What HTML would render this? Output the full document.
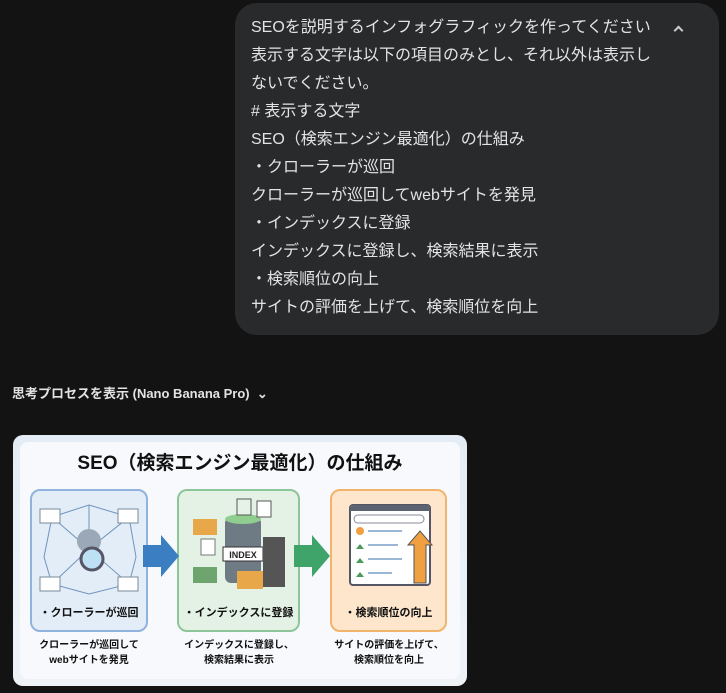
<!DOCTYPE html>
<html><head><meta charset="utf-8"><style>
*{margin:0;padding:0;box-sizing:border-box}
body{width:726px;height:693px;background:#131314;position:relative;overflow:hidden;font-family:"Liberation Sans","Noto Sans CJK JP",sans-serif;color:#e3e3e3}
.bub{position:absolute;left:235px;top:3px;width:484px;height:332px;background:#282a2c;border-radius:22px 22px 22px 22px}
.bub p{position:absolute;left:16px;font-size:16px;line-height:28px;white-space:nowrap}
.chev{position:absolute;left:440px;top:24px;width:10px;height:10px;border-left:2px solid #ccc;border-top:2px solid #ccc;transform:rotate(45deg);width:7px;height:7px}
.think{position:absolute;left:12px;top:383px;font-size:13px;font-weight:bold;color:#e3e3e3}
.img{position:absolute;left:13px;top:435px;width:454px;height:251px;background:linear-gradient(#e4edf6,#eef3f8);border-radius:10px;overflow:hidden}
.inner{position:absolute;left:7px;top:7px;width:440px;height:237px;background:#f7f9fc;border-radius:8px}
.title{position:absolute;left:0;width:454px;top:13px;text-align:center;font-size:19px;font-weight:bold;color:#111}
.pan{position:absolute;top:54px;height:143px;border-radius:10px;border:2px solid}
.pan .lab{position:absolute;left:0;right:0;bottom:10px;text-align:center;font-size:11px;font-weight:bold;color:#111;white-space:nowrap}
.desc{position:absolute;top:203px;text-align:center;font-size:10px;line-height:15px;color:#111;width:130px;font-weight:bold}
</style></head><body>
<div class="bub">
<p style="top:11px">SEOを説明するインフォグラフィックを作ってください</p>
<p style="top:39px">表示する文字は以下の項目のみとし、それ以外は表示し</p>
<p style="top:67px">ないでください。</p>
<p style="top:95px"># 表示する文字</p>
<p style="top:123px">SEO（検索エンジン最適化）の仕組み</p>
<p style="top:151px">・クローラーが巡回</p>
<p style="top:179px">クローラーが巡回してwebサイトを発見</p>
<p style="top:207px">・インデックスに登録</p>
<p style="top:235px">インデックスに登録し、検索結果に表示</p>
<p style="top:263px">・検索順位の向上</p>
<p style="top:291px">サイトの評価を上げて、検索順位を向上</p>
<div class="chev"></div>
</div>
<div class="think">思考プロセスを表示 (Nano Banana Pro) &nbsp;⌄</div>
<div class="img"><div class="inner"></div>
<div class="title">SEO（検索エンジン最適化）の仕組み</div>
<div class="pan" style="left:17px;width:118px;background:#e3edf8;border-color:#8fb3dc">
<svg width="114" height="100" style="position:absolute;left:0;top:8px">
<g stroke="#6f93bd" stroke-width="1" fill="none"><path d="M20 18L57 6L97 18L104 58L97 85L57 95L20 85L12 58Z M57 6L57 50L20 18 M97 18L57 50 M97 85L57 50L20 85"/></g>
<g fill="#fff" stroke="#7a8a9a"><rect x="8" y="10" width="20" height="14"/><rect x="86" y="10" width="20" height="14"/><rect x="8" y="78" width="20" height="14"/><rect x="86" y="78" width="20" height="14"/></g>
<circle cx="57" cy="42" r="12" fill="#9aa8b8"/><circle cx="60" cy="60" r="11" fill="#bde0f5" stroke="#556" stroke-width="3"/>
</svg>
<div class="lab">・クローラーが巡回</div></div>
<div class="pan" style="left:164px;width:123px;background:#e4f2e6;border-color:#8dc59a">
<svg width="118" height="100" style="position:absolute;left:0;top:6px">
<rect x="46" y="20" width="36" height="66" rx="6" fill="#6e7a84"/><ellipse cx="64" cy="22" rx="18" ry="5" fill="#8fce8f"/>
<rect x="44" y="50" width="40" height="14" fill="#fff" stroke="#333"/><text x="64" y="61" font-size="9" font-weight="bold" text-anchor="middle" fill="#222" font-family="Liberation Sans">INDEX</text>
<rect x="84" y="40" width="22" height="50" fill="#555"/><rect x="14" y="22" width="24" height="16" fill="#e8a84a"/><rect x="14" y="70" width="24" height="16" fill="#6ea46e"/><rect x="58" y="74" width="26" height="18" fill="#e8a84a"/><rect x="22" y="42" width="14" height="16" fill="#fff" stroke="#777"/><rect x="58" y="2" width="14" height="16" fill="#e6f2e6" stroke="#555"/><rect x="78" y="4" width="14" height="16" fill="#fff" stroke="#555"/>
</svg>
<div class="lab">・インデックスに登録</div></div>
<div class="pan" style="left:317px;width:117px;background:#fde6cc;border-color:#f2b36a">
<svg width="113" height="100" style="position:absolute;left:0;top:8px">
<rect x="18" y="6" width="80" height="80" rx="3" fill="#fff" stroke="#556" stroke-width="2"/><rect x="18" y="6" width="80" height="6" fill="#5b6470"/>
<rect x="22" y="16" width="70" height="8" rx="4" fill="#fff" stroke="#889"/>
<g stroke="#9cb6d6" stroke-width="2"><path d="M36 32H70M36 46H66M36 60H70M36 74H60"/></g>
<path d="M82 84V46H76L88 32L100 46H94V84Z" fill="#f0a040" stroke="#555"/>
<g fill="#4a9a5a"><path d="M24 50l4-5 4 5zM24 64l4-5 4 5zM24 78l4-5 4 5z"/></g><circle cx="28" cy="32" r="4" fill="#f0a040"/>
</svg>
<div class="lab">・検索順位の向上</div></div>
<svg width="454" height="251" style="position:absolute;left:0;top:0">
<path d="M130 110H148V100L166 121L148 142V132H130Z" fill="#3b7fc2"/>
<path d="M281 110H299V100L317 121L299 142V132H281Z" fill="#3fa46a"/>
</svg>
<div class="desc" style="left:11px">クローラーが巡回して<br>webサイトを発見</div>
<div class="desc" style="left:161px">インデックスに登録し、<br>検索結果に表示</div>
<div class="desc" style="left:311px">サイトの評価を上げて、<br>検索順位を向上</div>
</div>
</body></html>
